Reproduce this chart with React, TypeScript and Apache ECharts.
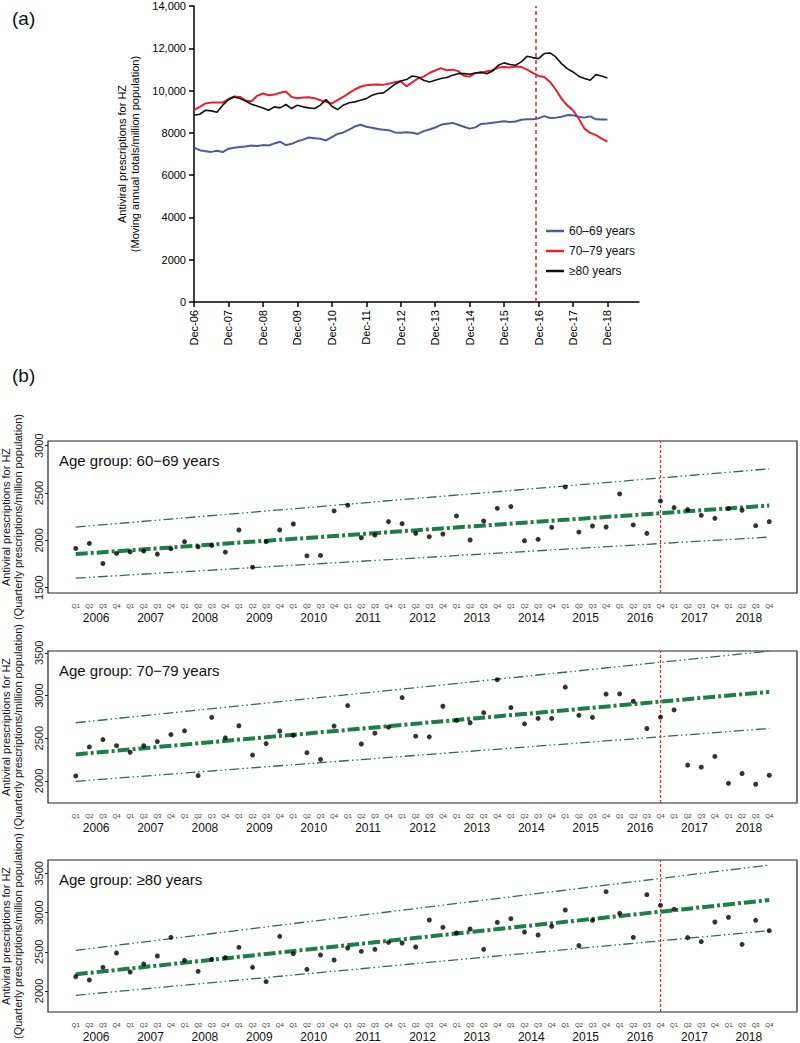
import { useEffect, useRef } from 'react';
import * as echarts from 'echarts';

const FONT = '"Liberation Sans", Arial, Helvetica, sans-serif';

// ---------- Panel (a): moving annual totals, sampled every 2 months, Dec-06 .. Dec-18 ----------
const decTickLabels = ['Dec-06', 'Dec-07', 'Dec-08', 'Dec-09', 'Dec-10', 'Dec-11', 'Dec-12', 'Dec-13', 'Dec-14', 'Dec-15', 'Dec-16', 'Dec-17', 'Dec-18'];
const seriesNamesA = ['60–69 years', '70–79 years', '≥80 years'];
const sampleStepMonths = 2;
const mat6069 = [
  7300, 7180, 7130, 7100, 7150, 7090, 7250, 7300, 7330, 7360, 7400, 7380, 7420, 7400, 7500, 7580, 7420, 7480, 7600,
  7680, 7780, 7740, 7720, 7640, 7800, 7950, 8020, 8150, 8300, 8380, 8290, 8240, 8180, 8150, 8120, 8020, 8000,
  8030, 8000, 7950, 8080, 8160, 8250, 8380, 8430, 8470, 8380, 8290, 8200, 8260, 8420, 8440, 8480, 8510, 8550,
  8510, 8540, 8620, 8640, 8640, 8690, 8790, 8700, 8720, 8760, 8840, 8830, 8760, 8720, 8780, 8640, 8630, 8630,
];
const mat7079 = [
  9070, 9230, 9390, 9430, 9440, 9430, 9600, 9720, 9700, 9530, 9500, 9750, 9860, 9780, 9810, 9900, 9960, 9700, 9640,
  9670, 9680, 9640, 9540, 9470, 9390, 9550, 9700, 9880, 10050, 10180, 10250, 10270, 10290, 10270, 10330, 10400, 10440,
  10200, 10390, 10570, 10660, 10830, 10950, 11060, 10960, 10990, 10920, 10700, 10660, 10830, 10830, 10910, 10960, 11090, 11120,
  11090, 11140, 11120, 10990, 10835, 10690, 10645, 10410, 10050, 9620, 9300, 9070, 8680, 8200, 8000, 7890, 7730, 7580,
];
const mat80 = [
  8835, 8880, 9070, 9040, 8975, 9310, 9575, 9700, 9620, 9510, 9355, 9275, 9180, 9070, 9230, 9180, 9340, 9150, 9310,
  9230, 9180, 9150, 9310, 9575, 9260, 9100, 9310, 9420, 9465, 9545, 9620, 9780, 9860, 9890, 10095, 10300, 10455,
  10520, 10690, 10645, 10490, 10410, 10490, 10570, 10615, 10725, 10800, 10800, 10770, 10835, 10880, 10800, 10930, 11200, 11310,
  11230, 11200, 11355, 11620, 11560, 11510, 11750, 11780, 11590, 11275, 11040, 10880, 10680, 10570, 10490, 10755, 10690, 10600,
];
const programmeStartMonthA = 119; // Nov-16, months after Dec-06

// ---------- Panel (b): quarterly prescriptions ----------
const quarters = ['Q1', 'Q2', 'Q3', 'Q4'];
const years = [2006, 2007, 2008, 2009, 2010, 2011, 2012, 2013, 2014, 2015, 2016, 2017, 2018];
const obs6069 = [
  1915, 1968, 1756, 1862, 1880, 1887, 1855, 1912, 1986, 1933, 1947, 1876, 2110, 1717, 1986, 2110,
  2173, 1837, 1841, 2311, 2371, 2028, 2057, 2198, 2177, 2074, 2039, 2067, 2258, 2004, 2205, 2339,
  2357, 1996, 2011, 2138, 2565, 2088, 2152, 2141, 2491, 2163, 2074, 2417, 2346, 2325, 2265, 2233,
  2336, 2318, 2155, 2198,
];
const obs7079 = [
  2059, 2398, 2484, 2413, 2335, 2413, 2461, 2543, 2587, 2063, 2744, 2504, 2646, 2303, 2437, 2583,
  2535, 2331, 2252, 2642, 2882, 2433, 2559, 2630, 2976, 2524, 2516, 2874, 2709, 2681, 2799, 3185,
  2858, 2669, 2732, 2732, 3098, 2768, 2744, 3016, 3020, 2933, 2614, 2748, 2831, 2185, 2161, 2287,
  1972, 2087, 1961, 2067,
];
const obs80 = [
  2183, 2140, 2302, 2484, 2242, 2344, 2446, 2684, 2391, 2251, 2404, 2425, 2557, 2302, 2119, 2697,
  2476, 2276, 2459, 2395, 2548, 2506, 2531, 2620, 2612, 2561, 2905, 2812, 2739, 2790, 2531, 2875,
  2922, 2752, 2714, 2824, 3033, 2578, 2901, 3266, 2990, 2684, 3228, 3092, 3041, 2680, 2629, 2880,
  2939, 2595, 2901, 2769,
];
// fitted trend and prediction limits at Q1 2006 and Q4 2018
const fit6069 = [1855, 2368];
const upper6069 = [2141, 2756];
const lower6069 = [1601, 2035];
const fit7079 = [2311, 3043];
const upper7079 = [2681, 3520];
const lower7079 = [1996, 2614];
const fit80 = [2212, 3160];
const upper80 = [2518, 3606];
const lower80 = [1945, 2769];
const yTicks6069 = [1500, 2000, 2500, 3000];
const yTicks7079 = [2000, 2500, 3000, 3500];
const yTicks80 = [2000, 2500, 3000, 3500];
const ageGroupTitles = ['Age group: 60−69 years', 'Age group: 70−79 years', 'Age group: ≥80 years'];
const programmeStartQuarterB = 43; // Q4 2016

export default function App() {
  const ref = useRef<HTMLDivElement>(null);

  useEffect(() => {
    if (!ref.current) return;
    const chart = echarts.init(ref.current, undefined, { renderer: 'svg' });

    const toPairs = (arr: number[]) => arr.map((v, i) => [i * sampleStepMonths, v]);
    const decTicks = decTickLabels.map((_, i) => i * 12);

    const nQ = years.length * 4;
    const qIdx = Array.from({ length: nQ }, (_, i) => i);
    const yearCentres = years.map((_, i) => i * 4 + 1.5);

    const panels = [
      { obs: obs6069, fit: fit6069, up: upper6069, lo: lower6069, ticks: yTicks6069, min: 1444, max: 3050, top: 441 },
      { obs: obs7079, fit: fit7079, up: upper7079, lo: lower7079, ticks: yTicks7079, min: 1742, max: 3521, top: 651 },
      { obs: obs80, fit: fit80, up: upper80, lo: lower80, ticks: yTicks80, min: 1732, max: 3670, top: 860 },
    ];

    const grids: any[] = [{ left: 194, top: 6, width: 445, height: 296, outerBoundsMode: 'none', containLabel: false }];
    const xAxes: any[] = [
      {
        type: 'value', gridIndex: 0, min: 0, max: 155,
        axisLine: { onZero: false, lineStyle: { color: '#000', width: 1.5 } },
        axisTick: { show: true, length: 5, customValues: decTicks, lineStyle: { color: '#000', width: 1.5 } },
        axisLabel: {
          customValues: decTicks, rotate: 90, margin: 8, fontSize: 11, color: '#000', fontFamily: FONT,
          formatter: (v: number) => decTickLabels[Math.round(v / 12)] ?? '',
        },
        splitLine: { show: false },
      },
    ];
    const yAxes: any[] = [
      {
        type: 'value', gridIndex: 0, min: 0, max: 14000, interval: 2000,
        axisLine: { show: true, onZero: false, lineStyle: { color: '#000', width: 1.5 } },
        axisTick: { show: true, length: 5, lineStyle: { color: '#000', width: 1.5 } },
        axisLabel: {
          margin: 8, fontSize: 11, color: '#000', fontFamily: FONT,
          formatter: (v: number) => (v >= 10000 ? `${Math.floor(v / 1000)},${String(v % 1000).padStart(3, '0')}` : String(v)),
        },
        splitLine: { show: false },
        name: 'Antiviral prescriptions for HZ\n(Moving annual totals/million population)',
        nameLocation: 'middle', nameRotate: 90, nameGap: 45,
        nameTextStyle: { fontSize: 11, lineHeight: 13, color: '#000', fontFamily: FONT },
      },
    ];

    const series: any[] = [
      {
        name: seriesNamesA[0], type: 'line', xAxisIndex: 0, yAxisIndex: 0, data: toPairs(mat6069),
        showSymbol: false, lineStyle: { color: '#4e5a9c', width: 2 }, itemStyle: { color: '#4e5a9c' },
      },
      {
        name: seriesNamesA[1], type: 'line', xAxisIndex: 0, yAxisIndex: 0, data: toPairs(mat7079),
        showSymbol: false, lineStyle: { color: '#e3212b', width: 2 }, itemStyle: { color: '#e3212b' },
      },
      {
        name: seriesNamesA[2], type: 'line', xAxisIndex: 0, yAxisIndex: 0, data: toPairs(mat80),
        showSymbol: false, lineStyle: { color: '#111', width: 1.6 }, itemStyle: { color: '#111' },
        markLine: {
          silent: true, symbol: 'none', label: { show: false },
          lineStyle: { color: '#d92a2a', type: [4, 3], width: 1.5 },
          data: [{ xAxis: programmeStartMonthA }],
        },
      },
    ];

    const graphics: any[] = [
      { type: 'text', left: 12, top: 9, style: { text: '(a)', fontSize: 19, fontFamily: FONT, fill: '#111' } },
      { type: 'text', left: 12, top: 366, style: { text: '(b)', fontSize: 19, fontFamily: FONT, fill: '#111' } },
    ];

    panels.forEach((p, k) => {
      const g = k + 1;
      grids.push({
        left: 48, right: 3, top: p.top, height: 152, show: true, borderColor: '#222', borderWidth: 1.2,
        outerBoundsMode: 'none', containLabel: false,
      });
      const qAxis = xAxes.length;
      xAxes.push({
        type: 'value', gridIndex: g, min: -2.04, max: 53.04,
        axisLine: { show: false, onZero: false }, axisTick: { show: false }, splitLine: { show: false },
        axisLabel: {
          customValues: qIdx, margin: 10, fontSize: 6, color: '#333', fontFamily: FONT,
          formatter: (v: number) => quarters[Math.round(v) % 4],
        },
      });
      xAxes.push({
        type: 'value', gridIndex: g, min: -2.04, max: 53.04, position: 'bottom',
        axisLine: { show: false, onZero: false }, axisTick: { show: false }, splitLine: { show: false },
        axisLabel: {
          customValues: yearCentres, margin: 19, fontSize: 12, color: '#111', fontFamily: FONT,
          formatter: (v: number) => String(years[Math.round((v - 1.5) / 4)] ?? ''),
        },
      });
      const yIdx = yAxes.length;
      yAxes.push({
        type: 'value', gridIndex: g, min: p.min, max: p.max, position: 'left',
        axisLine: { show: false, onZero: false },
        axisTick: { show: true, length: 3, customValues: p.ticks, lineStyle: { color: '#222' } },
        axisLabel: {
          customValues: p.ticks, rotate: 90, margin: 4, fontSize: 11, color: '#222', fontFamily: FONT,
          formatter: (v: number) => String(Math.round(v)),
        },
        splitLine: { show: false },
        name: 'Antiviral prescriptions for HZ\n(Quarterly prescriptions/million population)',
        nameLocation: 'middle', nameRotate: 90, nameGap: 24,
        nameTextStyle: { fontSize: 11, lineHeight: 12, color: '#111', fontFamily: FONT },
      });
      const last = nQ - 1;
      series.push(
        {
          type: 'line', xAxisIndex: qAxis, yAxisIndex: yIdx, data: [[0, p.up[0]], [last, p.up[1]]],
          showSymbol: false, silent: true, lineStyle: { color: '#2b6e50', width: 1.3, type: [10, 3, 1.5, 3, 1.5, 3] },
        },
        {
          type: 'line', xAxisIndex: qAxis, yAxisIndex: yIdx, data: [[0, p.lo[0]], [last, p.lo[1]]],
          showSymbol: false, silent: true, lineStyle: { color: '#2b6e50', width: 1.3, type: [10, 3, 1.5, 3, 1.5, 3] },
        },
        {
          type: 'line', xAxisIndex: qAxis, yAxisIndex: yIdx, data: [[0, p.fit[0]], [last, p.fit[1]]],
          showSymbol: false, silent: true, lineStyle: { color: '#1d7f45', width: 4, type: [12, 3, 3, 3] },
          markLine: {
            silent: true, symbol: 'none', label: { show: false },
            lineStyle: { color: '#e0251b', type: [3, 2], width: 1.2 },
            data: [{ xAxis: programmeStartQuarterB }],
          },
        },
        {
          type: 'scatter', xAxisIndex: qAxis, yAxisIndex: yIdx, data: p.obs.map((v, i) => [i, v]),
          symbolSize: 5, itemStyle: { color: '#000' }, z: 5,
        },
      );
      graphics.push({
        type: 'text', left: 59, top: p.top + 12,
        style: { text: ageGroupTitles[k], fontSize: 15, fontFamily: FONT, fill: '#111' },
      });
    });

    chart.setOption({
      animation: false,
      backgroundColor: '#fff',
      textStyle: { fontFamily: FONT },
      grid: grids,
      xAxis: xAxes,
      yAxis: yAxes,
      legend: {
        data: seriesNamesA, orient: 'vertical', left: 541, top: 220, icon: 'rect',
        itemWidth: 18, itemHeight: 2.5, itemGap: 8,
        textStyle: { fontSize: 12, color: '#111', fontFamily: FONT },
      },
      graphic: graphics,
      series,
    });

    return () => chart.dispose();
  }, []);

  return <div ref={ref} style={{ position: 'absolute', left: 0, top: 0, width: 800, height: 1043 }} />;
}
